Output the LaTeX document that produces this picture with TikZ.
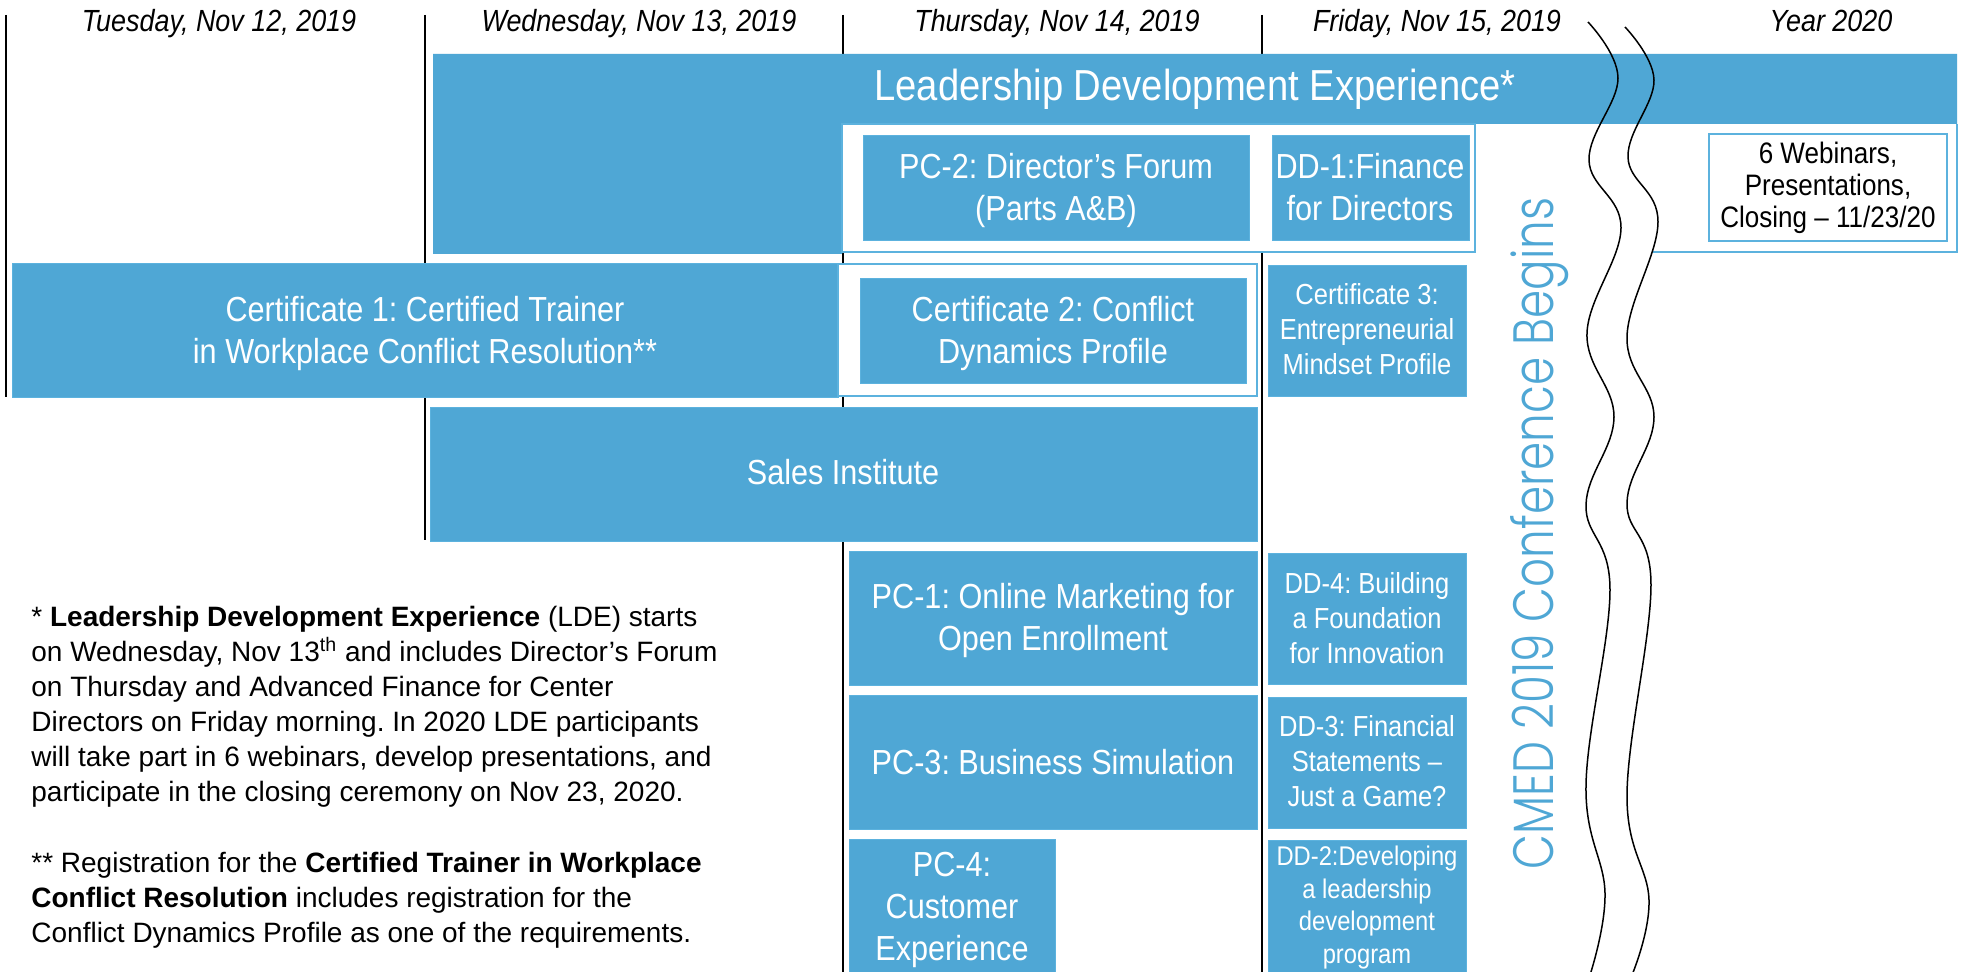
\documentclass[tikz,border=0pt]{standalone}
\usepackage{fontspec}
\usepackage{graphicx}
\setmainfont{Liberation Sans}
\newfontfamily\nar{Liberation Sans}[FakeStretch=0.88]
\newfontfamily\cmedfont{Poppins Light}
\definecolor{cblue}{RGB}{79,167,213}
\definecolor{cline}{RGB}{92,178,222}
\frenchspacing
\tikzset{
  boxfill/.style={fill=cblue, draw=cline, line width=0.4pt},
  framebox/.style={fill=white, draw=cline, line width=1pt},
  dayline/.style={black, line width=0.75pt},
  wave/.style={black, line width=0.75pt},
  hdr/.style={anchor=base, inner sep=0pt, font=\nar\itshape\fontsize{15.3}{18}\selectfont},
  btxt/.style={anchor=north, inner sep=0pt, align=center, text=white, font=\nar\fontsize{17.4}{20.85}\selectfont},
  bline/.style={anchor=base, inner sep=0pt, text=white, font=\nar\fontsize{17.4}{20.85}\selectfont},
  stxt/.style={anchor=north, inner sep=0pt, align=center, text=white, font=\nar\fontsize{14.5}{17.5}\selectfont},
  xstxt/.style={anchor=north, inner sep=0pt, align=center, text=white, font=\nar\fontsize{13.5}{16.25}\selectfont},
  note/.style={anchor=north west, inner sep=0pt, align=left, font=\fontsize{14}{17.5}\selectfont},
}
\begin{document}
\begin{tikzpicture}[x=0.5pt, y=-0.5pt]
\useasboundingbox (0,0) rectangle (1961,972);
\fill[white] (0,0) rectangle (1961,972);

% day separator lines
\draw[dayline] (6,15) -- (6,397);
\draw[dayline] (425,15) -- (425,540);
\draw[dayline] (843,15) -- (843,972);
\draw[dayline] (1262,15) -- (1262,972);

% headers
\node[hdr] (h1) at (219,32) {Tuesday, Nov 12, 2019};
\node[hdr] (h2) at (639,32) {Wednesday, Nov 13, 2019};
\node[hdr] (h3) at (1057,32) {Thursday, Nov 14, 2019};
\node[hdr] (h4) at (1437,32) {Friday, Nov 15, 2019};
\node[hdr] (h5) at (1831,32) {Year 2020};

% Leadership Development Experience
\fill[cblue] (433,54) -- (1957,54) -- (1957,124) -- (842,124) -- (842,254) -- (433,254) -- cycle;
\draw[framebox] (842,124) rectangle (1475,252);
\draw[cline, line width=1pt] (1653,252) -- (1957,252) -- (1957,124);
\node[bline, font=\nar\fontsize{21.7}{26}\selectfont] (lde) at (1195,101) {Leadership Development Experience*};

\fill[boxfill] (863,135) rectangle (1249,240);
\node[btxt] (pc2) at (1056,153) {PC-2: Director’s Forum\\(Parts A\&B)};
\fill[boxfill] (1272,135) rectangle (1469,240);
\node[btxt] (dd1) at (1370,153) {DD-1:Finance\\for Directors};

\draw[cline, line width=1.2pt, fill=white] (1709,134) rectangle (1947,241);
\node[anchor=north, inner sep=0pt, align=center, font=\nar\fontsize{14.8}{16}\selectfont] (web) at (1828,142) {6 Webinars,\\Presentations,\\Closing – 11/23/20};

% Certificates
\fill[boxfill] (12,263) rectangle (838,397);
\node[btxt] (cert1) at (425,296) {Certificate 1: Certified Trainer\\in Workplace Conflict Resolution**};
\draw[framebox] (838,264) rectangle (1257,396);
\fill[boxfill] (860,278) rectangle (1246,383);
\node[btxt] (cert2) at (1053,296) {Certificate 2: Conflict\\Dynamics Profile};
\fill[boxfill] (1268,265) rectangle (1466,396);
\node[stxt] (cert3) at (1367,283) {Certificate 3:\\Entrepreneurial\\Mindset Profile};

% Sales Institute
\fill[boxfill] (430,407) rectangle (1257,541);
\node[bline] (sales) at (843,485) {Sales Institute};

% PC boxes
\fill[boxfill] (849,551) rectangle (1257,685);
\node[btxt] (pc1) at (1053,583) {PC-1: Online Marketing for\\Open Enrollment};
\fill[boxfill] (849,695) rectangle (1257,829);
\node[bline] (pc3) at (1053,775) {PC-3: Business Simulation};
\fill[boxfill] (849,839) rectangle (1055,980);
\node[btxt] (pc4) at (952,852) {PC-4:\\Customer\\Experience};

% DD boxes
\fill[boxfill] (1268,553) rectangle (1466,684);
\node[stxt] (dd4) at (1367,572) {DD-4: Building\\a Foundation\\for Innovation};
\fill[boxfill] (1268,697) rectangle (1466,828);
\node[stxt] (dd3) at (1367,715) {DD-3: Financial\\Statements –\\Just a Game?};
\fill[boxfill] (1268,840) rectangle (1466,980);
\node[xstxt] (dd2) at (1367,846) {DD-2:Developing\\a leadership\\development\\program};

% CMED vertical text
\node[rotate=90, anchor=base west, inner sep=0pt, text=cblue] (cmed) at (1553,870)
  {\resizebox{336pt}{21.5pt}{\cmedfont CMED 2019 Conference Begins}};

% wavy break lines
\draw[wave] plot[smooth, tension=0.65] coordinates {(1588,22) (1618,78) (1589,160) (1621,228) (1587,333) (1614,417) (1586,505) (1610,590) (1586,785) (1605,893) (1590,975)};
\draw[wave] plot[smooth, tension=0.65] coordinates {(1625,27) (1654,80) (1628,157) (1658,222) (1627,337) (1654,417) (1627,503) (1651,585) (1627,795) (1649,900) (1632,975)};

% footnotes
\node[note] (fn1) at (31,606) {* \textbf{Leadership Development Experience} (LDE) starts\\on Wednesday, Nov 13\textsuperscript{th} and includes Director’s Forum\\on Thursday and Advanced Finance for Center\\Directors on Friday morning. In 2020 LDE participants\\will take part in 6 webinars, develop presentations, and\\participate in the closing ceremony on Nov 23, 2020.};
\node[note] (fn2) at (31,852) {** Registration for the \textbf{Certified Trainer in Workplace}\\\textbf{Conflict Resolution} includes registration for the\\Conflict Dynamics Profile as one of the requirements.};
\end{tikzpicture}
\end{document}
